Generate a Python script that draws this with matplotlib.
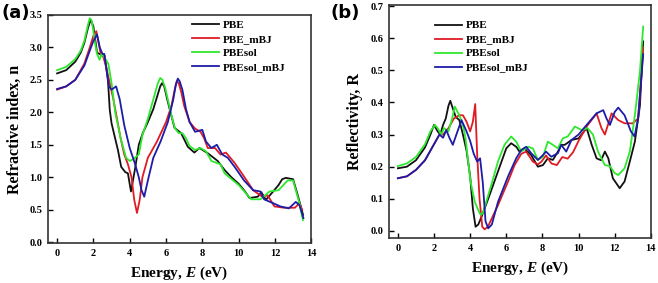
import matplotlib
matplotlib.use("Agg")
import matplotlib.pyplot as plt

# ---- (a) refractive index n(E) ----
E_n_pbe = [0, 0.5, 1.0, 1.3, 1.5, 1.7, 1.85, 2.0, 2.1, 2.2, 2.4, 2.62, 2.8, 2.9, 3.0, 3.17, 3.35,
           3.53, 3.75, 3.9, 4.07, 4.3, 4.5, 4.72, 5.0, 5.3, 5.55, 5.68, 5.78, 5.9, 6.05, 6.2, 6.47,
           6.83, 7.2, 7.56, 7.84, 8.3, 8.85, 9.23, 9.6, 10.0, 10.3, 10.6, 11.06, 11.25, 11.5,
           11.9, 12.2, 12.4, 12.6, 13.0, 13.26, 13.55]
n_pbe = [2.60, 2.65, 2.78, 2.92, 3.07, 3.30, 3.43, 3.32, 3.12, 2.92, 2.89, 2.87, 2.50, 2.04, 1.83,
         1.63, 1.42, 1.16, 1.08, 1.06, 0.78, 1.14, 1.50, 1.68, 1.85, 2.05, 2.28, 2.40, 2.45, 2.40,
         2.22, 2.05, 1.76, 1.68, 1.47, 1.38, 1.45, 1.37, 1.25, 1.11, 1.00, 0.90, 0.80, 0.68, 0.70,
         0.77, 0.65, 0.78, 0.88, 0.97, 0.99, 0.97, 0.72, 0.42]

E_n_pbe_mbj = [0, 0.5, 1.0, 1.5, 1.8, 2.0, 2.16, 2.3, 2.4, 2.55, 2.7, 2.9, 3.1, 3.3, 3.5, 3.7, 3.9,
               4.1, 4.25, 4.4, 4.55, 4.7, 5.0, 5.5, 6.0, 6.3, 6.5, 6.6, 6.7, 6.85, 7.0, 7.3, 7.6,
               7.9, 8.1, 8.3, 8.7, 9.0, 9.3, 9.78, 10.3, 10.8, 11.3, 11.6, 11.97, 12.5, 13.1,
               13.35, 13.5]
n_pbe_mbj = [2.35, 2.40, 2.50, 2.75, 3.00, 3.18, 3.25, 3.05, 2.90, 2.85, 2.70, 2.45, 2.20, 1.90, 1.60,
             1.35, 1.20, 1.00, 0.65, 0.45, 0.65, 1.00, 1.30, 1.55, 1.85, 2.10, 2.38, 2.48, 2.45,
             2.30, 2.10, 1.85, 1.75, 1.70, 1.60, 1.45, 1.45, 1.35, 1.38, 1.22, 1.01, 0.80, 0.70,
             0.72, 0.55, 0.53, 0.53, 0.60, 0.50]

E_n_pbesol = [0, 0.5, 1.0, 1.3, 1.5, 1.7, 1.8, 1.9, 2.0, 2.1, 2.2, 2.34, 2.45, 2.6, 2.82, 3.0, 3.2,
              3.5, 3.8, 4.0, 4.2, 4.5, 4.7, 5.0, 5.3, 5.55, 5.68, 5.8, 5.95, 6.1, 6.3, 6.5, 6.7,
              6.9, 7.1, 7.3, 7.6, 7.9, 8.2, 8.5, 9.0, 9.23, 10.0, 10.7, 11.2, 11.7, 12.2, 12.7,
              13.0, 13.35, 13.54]
n_pbesol = [2.65, 2.70, 2.82, 2.95, 3.10, 3.35, 3.45, 3.42, 3.25, 3.05, 2.90, 2.81, 2.90, 2.85, 2.75,
            2.45, 2.00, 1.60, 1.30, 1.25, 1.28, 1.35, 1.65, 1.90, 2.20, 2.45, 2.53, 2.50, 2.38, 2.20,
            1.95, 1.75, 1.68, 1.68, 1.60, 1.48, 1.42, 1.45, 1.40, 1.25, 1.20, 1.06, 0.88, 0.66,
            0.66, 0.78, 0.80, 0.95, 0.95, 0.60, 0.34]

E_n_pbesol_mbj = [0, 0.5, 1.0, 1.5, 1.8, 2.0, 2.2, 2.35, 2.5, 2.6, 2.7, 2.85, 3.0, 3.25, 3.45, 3.7,
                  4.0, 4.3, 4.5, 4.65, 4.8, 5.0, 5.3, 5.7, 6.1, 6.4, 6.55, 6.65, 6.75, 6.9, 7.1,
                  7.3, 7.6, 8.0, 8.2, 8.5, 8.8, 9.1, 9.4, 9.78, 10.3, 10.8, 11.2, 11.4, 11.9, 12.3,
                  12.77, 13.15, 13.35, 13.57]
n_pbesol_mbj = [2.36, 2.40, 2.50, 2.72, 2.95, 3.10, 3.20, 3.00, 2.90, 2.90, 2.70, 2.40, 2.35, 2.40,
                2.20, 1.80, 1.45, 1.20, 1.00, 0.80, 0.70, 0.95, 1.30, 1.55, 1.85, 2.20, 2.44, 2.52,
                2.48, 2.35, 2.05, 1.85, 1.70, 1.73, 1.55, 1.45, 1.50, 1.35, 1.30, 1.16, 0.95, 0.80,
                0.78, 0.66, 0.60, 0.55, 0.52, 0.62, 0.57, 0.37]

# ---- (b) reflectivity R(E) ----
E_r_pbe = [0, 0.5, 1.0, 1.5, 1.8, 2.0, 2.2, 2.35, 2.5, 2.65, 2.8, 2.9, 3.05, 3.2, 3.4, 3.6, 3.8,
           4.0, 4.15, 4.3, 4.45, 4.6, 4.8, 5.0, 5.54, 6.0, 6.27, 6.55, 6.73, 7.0, 7.38, 7.75,
           8.03, 8.3, 8.58, 8.86, 9.04, 9.24, 9.61, 10.0, 10.45, 10.73, 11.0, 11.25, 11.46,
           11.65, 11.9, 12.28, 12.55, 12.84, 13.12, 13.4, 13.58]
r_pbe = [0.195, 0.200, 0.220, 0.260, 0.300, 0.330, 0.310, 0.300, 0.330, 0.350, 0.390, 0.405, 0.380,
         0.355, 0.345, 0.300, 0.250, 0.170, 0.070, 0.013, 0.020, 0.040, 0.070, 0.100, 0.185, 0.257,
         0.273, 0.262, 0.247, 0.257, 0.236, 0.200, 0.205, 0.226, 0.221, 0.247, 0.268, 0.268, 0.283,
         0.288, 0.320, 0.268, 0.226, 0.220, 0.247, 0.226, 0.164, 0.133, 0.154, 0.216, 0.278,
         0.390, 0.590]

E_r_pbe_mbj = [0, 0.5, 1.0, 1.5, 2.0, 2.3, 2.5, 2.8, 3.1, 3.4, 3.6, 3.8, 4.0, 4.15, 4.28, 4.39,
               4.52, 4.67, 4.8, 4.98, 5.54, 6.1, 6.46, 6.83, 7.1, 7.47, 7.75, 7.95, 8.2, 8.5, 8.8,
               9.1, 9.4, 9.7, 10.0, 10.45, 11.0, 11.27, 11.46, 11.83, 12.2, 12.55, 13.0, 13.3,
               13.5, 13.58]
r_pbe_mbj = [0.164, 0.170, 0.190, 0.220, 0.270, 0.300, 0.300, 0.320, 0.350, 0.360, 0.360, 0.340,
             0.310, 0.340, 0.395, 0.236, 0.100, 0.013, 0.005, 0.013, 0.080, 0.154, 0.205, 0.240,
             0.247, 0.216, 0.207, 0.216, 0.235, 0.210, 0.205, 0.230, 0.225, 0.245, 0.280, 0.325,
             0.366, 0.320, 0.300, 0.366, 0.345, 0.335, 0.335, 0.350, 0.500, 0.570]

E_r_pbesol = [0, 0.5, 1.0, 1.5, 1.8, 2.05, 2.2, 2.4, 2.55, 2.8, 3.0, 3.15, 3.4, 3.6, 3.74, 4.02,
              4.26, 4.45, 4.58, 4.7, 5.17, 5.54, 5.9, 6.27, 6.55, 6.83, 7.2, 7.47, 7.75, 8.03, 8.3,
              8.58, 8.86, 9.13, 9.4, 9.8, 10.17, 10.5, 10.8, 11.08, 11.46, 11.74, 12.0, 12.2,
              12.55, 12.84, 13.12, 13.4, 13.58]
r_pbesol = [0.202, 0.210, 0.230, 0.270, 0.310, 0.330, 0.320, 0.300, 0.320, 0.310, 0.350, 0.387,
            0.360, 0.330, 0.290, 0.154, 0.090, 0.065, 0.050, 0.055, 0.143, 0.216, 0.268, 0.294,
            0.278, 0.247, 0.262, 0.257, 0.221, 0.231, 0.278, 0.268, 0.257, 0.288, 0.294, 0.325,
            0.314, 0.320, 0.300, 0.247, 0.205, 0.202, 0.180, 0.174, 0.195, 0.247, 0.360, 0.496,
            0.636]

E_r_pbesol_mbj = [0, 0.5, 1.0, 1.5, 2.0, 2.3, 2.5, 2.68, 2.85, 3.04, 3.3, 3.52, 3.8, 4.0, 4.2,
                  4.39, 4.55, 4.7, 4.85, 5.0, 5.2, 5.54, 6.1, 6.55, 6.83, 7.1, 7.38, 7.75, 8.03,
                  8.2, 8.49, 8.86, 9.04, 9.32, 9.61, 10.0, 10.45, 11.0, 11.37, 11.55, 11.74, 12.0,
                  12.2, 12.55, 12.9, 13.1, 13.3, 13.58]
r_pbesol_mbj = [0.164, 0.170, 0.190, 0.220, 0.270, 0.300, 0.290, 0.314, 0.290, 0.268, 0.310,
                0.345, 0.310, 0.280, 0.240, 0.216, 0.226, 0.150, 0.030, 0.008, 0.020, 0.090,
                0.170, 0.226, 0.252, 0.262, 0.242, 0.221, 0.236, 0.247, 0.231, 0.242, 0.268,
                0.247, 0.283, 0.300, 0.330, 0.366, 0.376, 0.350, 0.330, 0.370, 0.384, 0.360,
                0.310, 0.294, 0.350, 0.550]

labels = ["PBE", "PBE_mBJ", "PBEsol", "PBEsol_mBJ"]
colors = ["#111111", "#e01b24", "#2ee82e", "#1c1ca8"]

plt.rcParams["font.family"] = ["Liberation Serif", "DejaVu Serif"]
plt.rcParams["font.weight"] = "bold"
plt.rcParams["mathtext.fontset"] = "custom"
plt.rcParams["mathtext.it"] = "Liberation Serif:italic:bold"
plt.rcParams["mathtext.rm"] = "Liberation Serif:bold"

fig = plt.figure(figsize=(6.58, 2.83), dpi=100)
ax_a = fig.add_axes([0.073, 0.141, 0.400, 0.806])
ax_b = fig.add_axes([0.591, 0.159, 0.398, 0.823])

n_data = [(E_n_pbe, n_pbe), (E_n_pbe_mbj, n_pbe_mbj), (E_n_pbesol, n_pbesol),
          (E_n_pbesol_mbj, n_pbesol_mbj)]
r_data = [(E_r_pbe, r_pbe), (E_r_pbe_mbj, r_pbe_mbj), (E_r_pbesol, r_pbesol),
          (E_r_pbesol_mbj, r_pbesol_mbj)]

# legend upper-left corner in axes fraction
leg_pos = {ax_a: (0.547, 0.978), ax_b: (0.176, 0.933)}

for ax, data in [(ax_a, n_data), (ax_b, r_data)]:
    for (x, y), lab, c in zip(data, labels, colors):
        ax.plot(x, y, color=c, lw=1.3, label=lab, solid_joinstyle="round")
    for s in ax.spines.values():
        s.set_linewidth(1.2)
        s.set_color("#333333")
    ax.tick_params(direction="in", length=3.5, width=1, labelsize=7.5, pad=4)
    ax.set_xlim(-0.5, 14)
    ax.set_xticks(range(0, 15, 2))
    ax.legend(loc="upper left", bbox_to_anchor=leg_pos[ax], frameon=False,
              handlelength=2.4, handletextpad=0.4, labelspacing=0.38,
              borderaxespad=0, borderpad=0, prop={"weight": "bold", "size": 8})

ax_a.set_xlabel("Energy, $\\mathit{E}$ (eV)", fontsize=11, fontweight="bold", labelpad=5)
ax_b.set_xlabel("Energy, $\\mathit{E}$ (eV)", fontsize=11, fontweight="bold", labelpad=5)

ax_a.set_ylim(-0.015, 3.5)
ax_a.set_yticks([0, 0.5, 1.0, 1.5, 2.0, 2.5, 3.0, 3.5])
ax_a.set_yticklabels(["0.0", "0.5", "1.0", "1.5", "2.0", "2.5", "3.0", "3.5"])
ax_a.set_ylabel("Refractive index, n", fontsize=11.5, fontweight="bold", labelpad=5)

ax_b.set_ylim(-0.022, 0.703)
ax_b.set_yticks([0, 0.1, 0.2, 0.3, 0.4, 0.5, 0.6, 0.7])
ax_b.set_yticklabels(["0.0", "0.1", "0.2", "0.3", "0.4", "0.5", "0.6", "0.7"])
ax_b.set_ylabel("Reflectivity, R", fontsize=11.5, fontweight="bold", labelpad=5)

for ax in (ax_a, ax_b):
    for t in ax.get_xticklabels() + ax.get_yticklabels():
        t.set_fontweight("bold")

fig.text(0.002, 0.955, "(a)", fontsize=13, fontweight="bold", family="DejaVu Sans", va="center")
fig.text(0.502, 0.955, "(b)", fontsize=13, fontweight="bold", family="DejaVu Sans", va="center")

fig.savefig("out.png", dpi=100)
